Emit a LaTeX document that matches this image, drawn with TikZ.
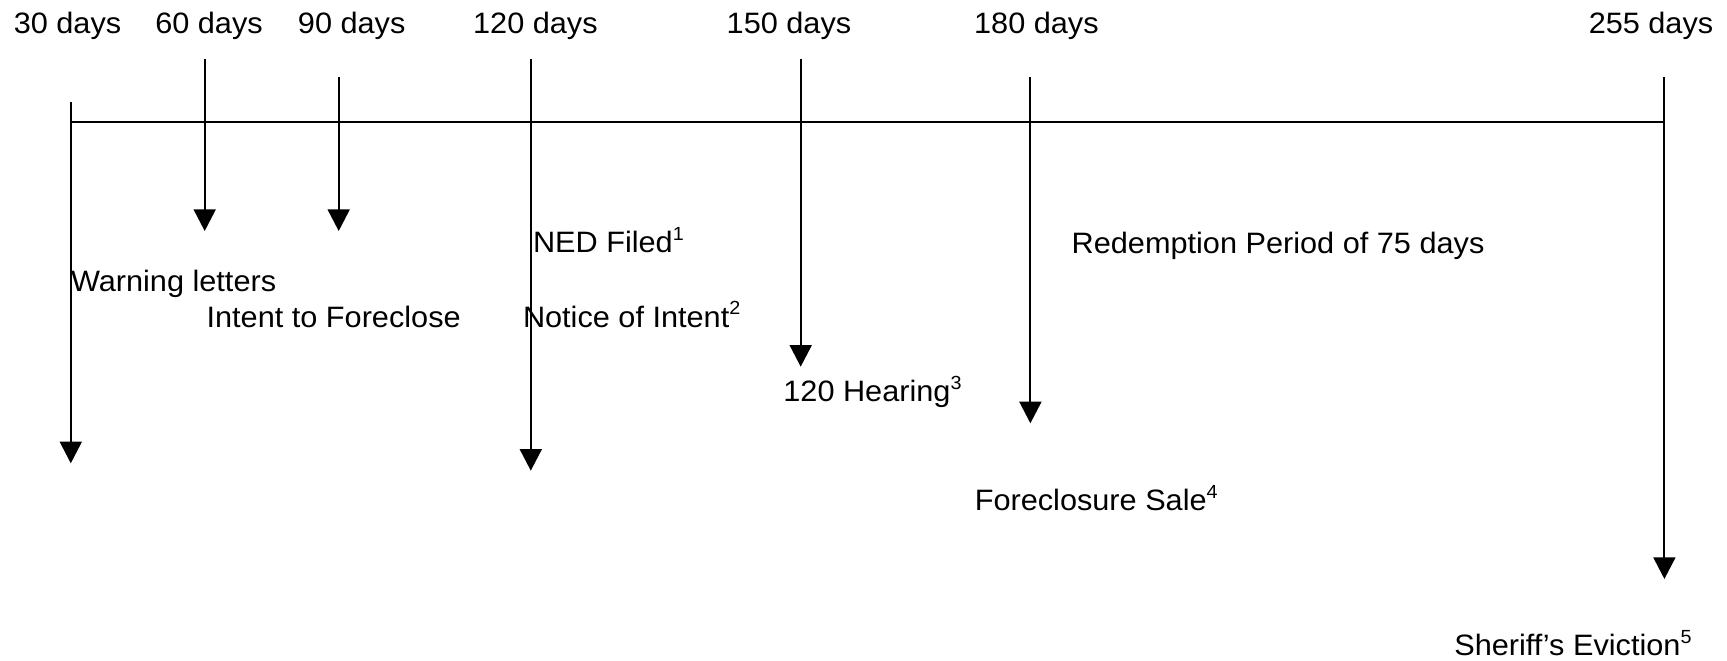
\documentclass[tikz,border=0pt]{standalone}
\usepackage{fontspec}
\setmainfont[FakeStretch=1.04]{Liberation Sans}
\usetikzlibrary{arrows.meta}
\newcommand\supnum[1]{\raisebox{0.42em}{\fontsize{19}{20}\selectfont #1}}
\begin{document}
\begin{tikzpicture}[x=1pt,y=-1pt,
  lbl/.style={inner sep=0pt,outer sep=0pt,font=\fontsize{29.5}{34}\selectfont},
  day/.style={lbl,anchor=base},
  evt/.style={lbl,anchor=base west},
  tickarrow/.style={line width=2pt,-{Triangle[length=21.7pt,width=22pt]}},
  axis/.style={line width=2pt}]
\useasboundingbox[fill=white] (0,0) rectangle (1727,661);

% day labels
\node[day] (d30)  at (67.5,33.3)   {30 days};
\node[day] (d60)  at (209,33.3)    {60 days};
\node[day] (d90)  at (351.7,33.3)  {90 days};
\node[day] (d120) at (535.4,33.3)  {120 days};
\node[day] (d150) at (789,33.3)    {150 days};
\node[day] (d180) at (1036.4,33.3) {180 days};
\node[day] (d255) at (1651,33.3)   {255 days};

% arrow coordinates
\coordinate (t30)  at (70.8,101.7);  \coordinate (e30)  at (70.8,463.3);
\coordinate (t60)  at (204.7,59.3);  \coordinate (e60)  at (204.7,231);
\coordinate (t90)  at (338.7,77.3);  \coordinate (e90)  at (338.7,231);
\coordinate (t120) at (530.8,59.3);  \coordinate (e120) at (530.8,470.7);
\coordinate (t150) at (800.7,59.3);  \coordinate (e150) at (800.7,366.7);
\coordinate (t180) at (1030.4,77.3); \coordinate (e180) at (1030.4,423.3);
\coordinate (t255) at (1664.4,77.3); \coordinate (e255) at (1664.4,579);
\coordinate (axL) at (70.8,122);
\coordinate (axR) at (1664.4,122);

% axis
\draw[axis] (axL) -- (axR);

% arrows
\draw[tickarrow] (t30) -- (e30);
\draw[tickarrow] (t60) -- (e60);
\draw[tickarrow] (t90) -- (e90);
\draw[tickarrow] (t120) -- (e120);
\draw[tickarrow] (t150) -- (e150);
\draw[tickarrow] (t180) -- (e180);
\draw[tickarrow] (t255) -- (e255);

% event labels
\node[evt] (warn)   at (71,291.7)     {Warning letters};
\node[evt] (intent) at (206.6,327.3)  {Intent to Foreclose};
\node[evt] (notice) at (523,327.3)    {Notice of Intent\supnum{2}};
\node[evt] (ned)    at (533,252.7)    {NED Filed\supnum{1}};
\node[evt] (redem)  at (1071.7,253.3) {Redemption Period of 75 days};
\node[evt] (hear)   at (783.4,401.7)  {120 Hearing\supnum{3}};
\node[evt] (sale)   at (974.8,510.7)  {Foreclosure Sale\supnum{4}};
\node[evt] (evict)  at (1454.3,655.7) {Sheriff’s Eviction\supnum{5}};
\end{tikzpicture}
\end{document}
